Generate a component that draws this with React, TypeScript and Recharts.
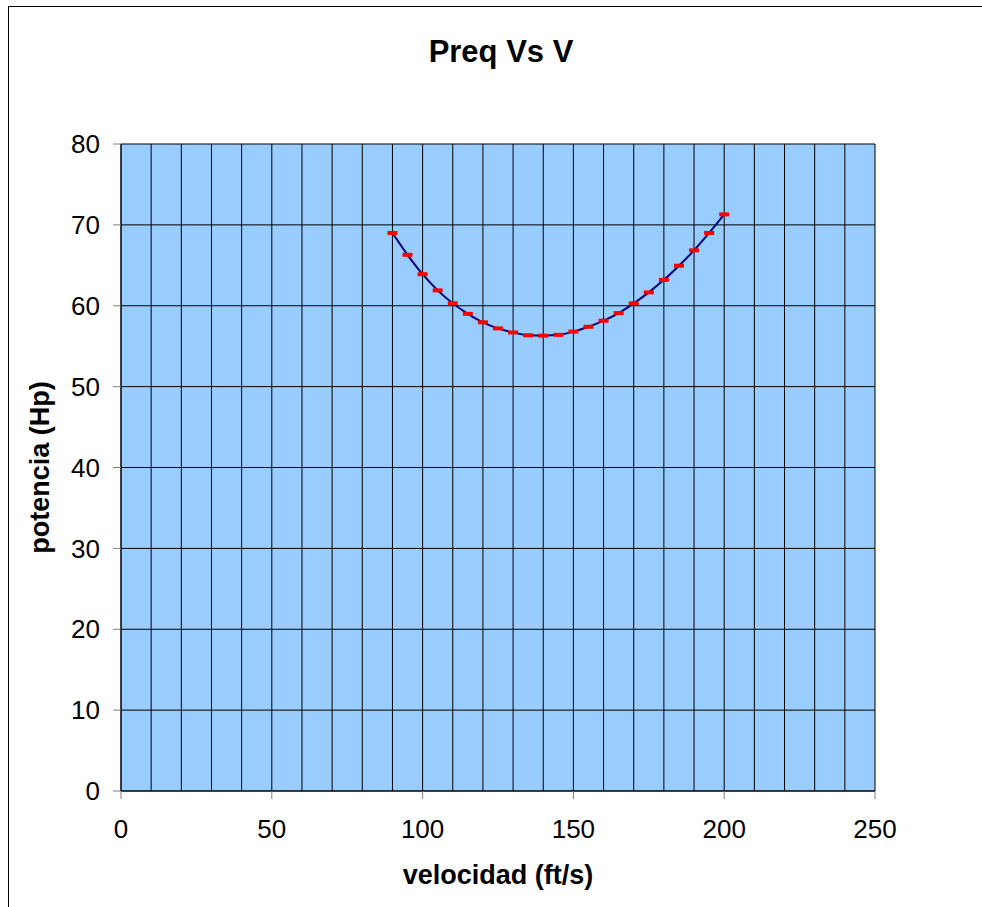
import React from 'react';
import { LineChart, Line, XAxis, YAxis, CartesianGrid } from 'recharts';

const speeds = [90, 95, 100, 105, 110, 115, 120, 125, 130, 135, 140, 145, 150, 155, 160, 165, 170, 175, 180, 185, 190, 195, 200];
const power = [69.0, 66.3, 63.9, 61.9, 60.3, 59.0, 57.95, 57.2, 56.7, 56.35, 56.3, 56.4, 56.8, 57.4, 58.15, 59.1, 60.3, 61.65, 63.2, 64.95, 66.85, 69.0, 71.3];

const xTicks = [0, 50, 100, 150, 200, 250];
const yTicks = [0, 10, 20, 30, 40, 50, 60, 70, 80];
const xGrid = [0, 10, 20, 30, 40, 50, 60, 70, 80, 90, 100, 110, 120, 130, 140, 150, 160, 170, 180, 190, 200, 210, 220, 230, 240, 250];

const data = speeds.map((v, i) => ({ v, p: power[i] }));

const FONT = "Arial, 'Liberation Sans', sans-serif";

const DashDot = (props: any) => {
  const { cx, cy } = props;
  if (cx == null || cy == null) return null;
  return <rect x={cx - 5} y={cy - 2} width={10} height={4} fill="#FF0000" />;
};

export default function App() {
  return (
    <div style={{ position: 'absolute', left: 0, top: 0, width: 982, height: 907, overflow: 'hidden', background: '#fff', fontFamily: FONT }}>
      <div style={{ position: 'absolute', left: 8, top: 6, width: 1000, height: 1000, border: '1px solid #000', boxSizing: 'border-box' }} />
      <div style={{ position: 'absolute', left: 0, top: 0 }}>
        <LineChart width={982} height={907} data={data} margin={{ top: 144, right: 107, bottom: 56, left: 61 }}>
          <CartesianGrid
            fill="#99CCFF"
            fillOpacity={1}
            stroke="#000"
            strokeWidth={1}
            verticalValues={xGrid}
            horizontalValues={yTicks}
          />
          <XAxis
            type="number"
            dataKey="v"
            domain={[0, 250]}
            ticks={xTicks}
            height={60}
            tickSize={8}
            tickMargin={21}
            stroke="#808080"
            axisLine={{ stroke: '#000' }}
            tick={{ fill: '#000', fontSize: 26, fontFamily: FONT }}
            interval={0}
          />
          <YAxis
            type="number"
            domain={[0, 80]}
            ticks={yTicks}
            width={60}
            tickSize={8}
            tickMargin={13}
            stroke="#808080"
            axisLine={{ stroke: '#000' }}
            tick={{ fill: '#000', fontSize: 26, fontFamily: FONT }}
            interval={0}
          />
          <Line
            type="monotone"
            dataKey="p"
            stroke="#000080"
            strokeWidth={2}
            dot={<DashDot />}
            activeDot={false}
            isAnimationActive={false}
          />
        </LineChart>
      </div>
      <div style={{ position: 'absolute', left: 0, width: 1002, top: 36, textAlign: 'center', fontSize: 31, lineHeight: '31px', fontWeight: 'bold' }}>
        Preq Vs V
      </div>
      <div style={{ position: 'absolute', left: 0, width: 996, top: 862, textAlign: 'center', fontSize: 27, lineHeight: '27px', fontWeight: 'bold' }}>
        velocidad (ft/s)
      </div>
      <div
        style={{
          position: 'absolute',
          left: 40 - 150,
          top: 467 - 13.5,
          width: 300,
          height: 27,
          textAlign: 'center',
          fontSize: 27,
          lineHeight: '27px',
          fontWeight: 'bold',
          transform: 'rotate(-90deg)',
          transformOrigin: '50% 50%',
        }}
      >
        potencia (Hp)
      </div>
    </div>
  );
}
